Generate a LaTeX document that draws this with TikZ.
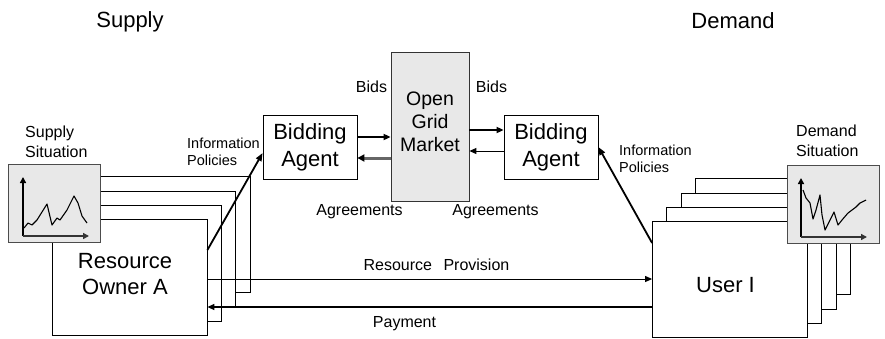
\documentclass[tikz,border=0pt]{standalone}
\usepackage{fontspec}
\setmainfont{Liberation Sans}
\usetikzlibrary{arrows.meta}
\begin{document}
\begin{tikzpicture}[x=1pt,y=-1pt,
  box/.style={draw=black, line width=0.8pt, fill=white, minimum width=155pt, minimum height=116pt, inner sep=0pt},
  panel/.style={draw=black!70, line width=0.8pt, fill=black!9, inner sep=0pt, minimum width=92pt, minimum height=78pt},
  agent/.style={draw=black, line width=0.8pt, fill=white, minimum width=94pt, minimum height=64pt, align=center, font=\fontsize{22}{27}\selectfont, inner sep=0pt},
  big/.style={font=\fontsize{22}{26.5}\selectfont, align=center, inner sep=0pt},
  lbl/.style={font=\fontsize{16}{20}\selectfont, inner sep=0pt, anchor=base},
  side/.style={font=\fontsize{16}{20}\selectfont, align=left, inner sep=0pt, anchor=west},
  info/.style={font=\fontsize{14.5}{17}\selectfont, align=left, inner sep=0pt, anchor=west},
  tip/.style={-{Triangle[length=7pt,width=6pt]}},
  infoarrow/.style={line width=1.8pt, -{Triangle[length=8pt,width=6pt]}},
  curve/.style={line width=1.1pt, line join=round},
  axis/.style={line width=1.5pt, -{Triangle[length=6pt,width=6pt]}}
]
\useasboundingbox (0,0) rectangle (885,338);

% headings
\node[big] (supply) at (130,22) {Supply};
\node[big] (demand) at (733,21) {Demand};

% left stack
\node[box] (l4) at (172.4,234.8) {};
\node[box] (l3) at (158.1,249.1) {};
\node[box] (l2) at (143.8,263.4) {};
\node[box] (lfront) at (129.5,277.7) {};
\node[big] (ltext) at (125,274) {Resource\\Owner A};

% supply situation panel
\node[panel] (spanel) at (54.5,203) {};
\draw[curve] (24,228) -- (28,223) -- (32,225) -- (37,220) -- (42,212) -- (47,204) -- (52,225) -- (57,218) -- (60,220) -- (67,210) -- (74,196) -- (78,203) -- (82,216) -- (87,223);
\coordinate (so) at (23,236);
\coordinate (sy) at (23,177);
\coordinate (sx) at (89,236);
\draw[axis] (so) -- (sy);
\draw[axis, line width=2.6pt, draw=black!80] (so) -- (sx);
\node[side] (stext) at (25,142.2) {Supply\\Situation};

% right stack
\node[box] (u4) at (772.9,236.6) {};
\node[box] (u3) at (758.6,250.9) {};
\node[box] (u2) at (744.3,265.2) {};
\node[box] (ufront) at (730,279.5) {};
\node[big, anchor=base] (utext) at (725.5,292) {User I};

% demand situation panel
\node[panel] (dpanel) at (833,204) {};
\draw[curve] (803,190) -- (806,198) -- (810,203) -- (813,219) -- (816,210) -- (820,195) -- (822,215) -- (825,230) -- (830,220) -- (834,212) -- (838,225) -- (842,220) -- (848,213) -- (856,207) -- (860,203) -- (866,200);
\coordinate (dox) at (801,237);
\coordinate (dy) at (801,178);
\coordinate (dx) at (867,237);
\draw[axis] (dox) -- (dy);
\draw[axis, line width=2.6pt, draw=black!80] (dox) -- (dx);
\node[side] (dtext) at (796,141) {Demand\\Situation};

% market and agents
\node[draw=black!80, line width=0.8pt, fill=black!9, minimum width=78pt, minimum height=149pt, inner sep=0pt] (ogm) at (430,126.5) {};
\node[font=\fontsize{19.5}{23}\selectfont, align=center, inner sep=0pt] (ogmtext) at (430,122) {Open\\Grid\\Market};
\node[agent] (lba) at (310,147) {Bidding\\Agent};
\node[agent] (rba) at (551,147) {Bidding\\Agent};

% agent <-> market arrows
\coordinate (y137) at (0,137);
\coordinate (y158) at (0,158);
\coordinate (y130) at (0,130);
\coordinate (y151) at (0,151);
\draw[tip, line width=2pt] (lba.east |- y137) -- (ogm.west |- y137);
\draw[line width=3pt, draw=black!60, -{Triangle[length=7pt,width=7pt,color=black]}] (ogm.west |- y158) -- (lba.east |- y158);
\draw[tip, line width=2.2pt] (ogm.east |- y130) -- (rba.west |- y130);
\draw[tip, line width=1pt] (rba.west |- y151) -- (ogm.east |- y151);

\node[lbl] (bidsl) at (371.5,92.3) {Bids};
\node[lbl] (bidsr) at (491.5,92.3) {Bids};
\node[lbl] (agrl) at (359.5,215) {Agreements};
\node[lbl] (agrr) at (495.5,215) {Agreements};

% information policies
\coordinate (infl) at (0,250);
\coordinate (inflend) at (0,153);
\coordinate (infr) at (0,243);
\coordinate (infrend) at (0,147);
\draw[infoarrow] (lfront.east |- infl) -- (lba.west |- inflend);
\draw[infoarrow] (ufront.west |- infr) -- (rba.east |- infrend);
\node[info] (infotl) at (187,152.2) {Information\\Policies};
\node[info] (infotr) at (619,158.9) {Information\\Policies};

% provision and payment
\coordinate (yrp) at (0,279);
\coordinate (ypay) at (0,307);
\draw[tip, line width=1pt] (lfront.east |- yrp) -- (ufront.west |- yrp);
\draw[tip, line width=1.4pt] (ufront.west |- ypay) -- (lfront.east |- ypay);
\node[lbl] (rptext) at (436.5,270.7) {Resource\hspace{7pt} Provision};
\node[lbl] (paytext) at (404.5,327) {Payment};
\end{tikzpicture}
\end{document}
